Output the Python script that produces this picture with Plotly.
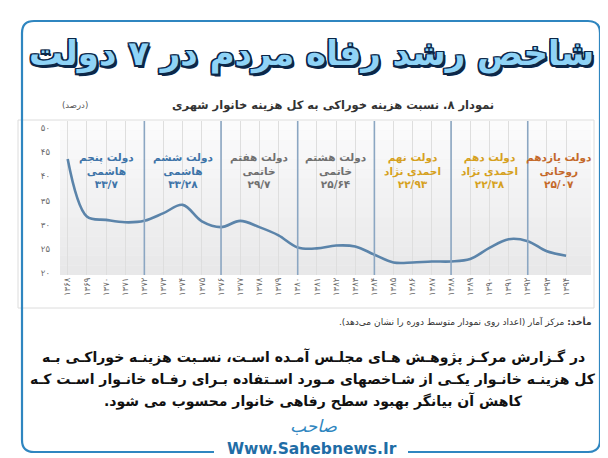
import plotly.graph_objects as go

# ---------------- data ----------------
years = list(range(1368, 1395))
food_share = [43.6, 31.7, 31.0, 30.5, 30.8, 32.4, 34.1, 30.7, 29.5, 30.8,
              29.5, 27.8, 25.3, 25.1, 25.7, 25.5, 23.8, 22.2, 22.2, 22.4,
              22.4, 22.9, 25.2, 27.0, 26.6, 24.5, 23.6]
boundary_years = [1372, 1376, 1380, 1384, 1388, 1392]
period_starts = [1368, 1372, 1376, 1380, 1384, 1388, 1392]
gov_names = ["دولت پنجم", "دولت ششم", "دولت هفتم", "دولت هشتم",
             "دولت نهم", "دولت دهم", "دولت یازدهم"]
gov_leaders = ["هاشمی", "هاشمی", "خاتمی", "خاتمی",
               "احمدی نژاد", "احمدی نژاد", "روحانی"]
gov_avgs = ["۳۳/۷", "۳۳/۲۸", "۲۹/۷", "۲۵/۶۴", "۲۲/۹۳", "۲۲/۳۸", "۲۵/۰۷"]
gov_colors = ["#3e74a8", "#3e74a8", "#707070", "#707070",
              "#d6a11e", "#d6a11e", "#c4692a"]
y_ticks = [20, 25, 30, 35, 40, 45, 50]

FA = str.maketrans("0123456789", "۰۱۲۳۴۵۶۷۸۹")
def fa(v):
    return str(v).translate(FA)

RLM = "\u200f"
W, H = 608, 458
L, R, T, B = 52, 25, 113, 191
PW, PH = W - L - R, H - T - B
X_RANGE = [1367.6, 1395.3]
Y_RANGE = [19.6, 51.45]

def px(x):
    return (x - L) / PW
def py(y):
    return (H - B - y) / PH

FONT = "DejaVu Sans"

fig = go.Figure()
fig.add_trace(go.Scatter(
    x=years, y=food_share, mode="lines",
    line=dict(color="#5b84aa", width=2.6, shape="spline", smoothing=1.0),
    hoverinfo="skip", showlegend=False))

shapes = []
# plot background gradient
nb = 16
for i in range(nb):
    c0 = 251 - int(round(i * (251 - 232) / (nb - 1)))
    shapes.append(dict(type="rect", xref="x domain", yref="y domain",
                       x0=0, x1=1, y0=1 - (i + 1) / nb, y1=1 - i / nb,
                       fillcolor=f"rgb({c0},{c0},{c0+1})", line=dict(width=0),
                       layer="below"))
# government boundary lines
for by in boundary_years:
    shapes.append(dict(type="line", xref="x", yref="y domain", x0=by, x1=by,
                       y0=0, y1=1, line=dict(color="#8ba6c2", width=1.6)))
# chart panel box
shapes.append(dict(type="rect", xref="paper", yref="paper",
                   x0=px(10), x1=px(586), y0=py(300), y1=py(112),
                   line=dict(color="#dcdcdc", width=1), fillcolor="rgba(0,0,0,0)",
                   layer="below"))
# outer rounded frame with gap at bottom
def P(x, y):
    return f"{px(x):.5f},{py(y):.5f}"
path = ("M " + P(206, 444) + " L " + P(26, 444) + " Q " + P(14, 444) + " " + P(14, 432) +
        " L " + P(14, 25) + " Q " + P(14, 13) + " " + P(26, 13) +
        " L " + P(580, 13) + " Q " + P(592, 13) + " " + P(592, 25) +
        " L " + P(592, 432) + " Q " + P(592, 444) + " " + P(580, 444) +
        " L " + P(400, 444))
shapes.append(dict(type="path", xref="paper", yref="paper", path=path,
                   line=dict(color="#2f86c0", width=2.2)))

annotations = []
# big title
outline = "#0c2748"
sh = ", ".join(f"{dx}px {dy}px 0 {outline}" for dx, dy in
               [(-1.5, -1.5), (1.5, -1.5), (-1.5, 1.5), (1.5, 1.5), (0, 1.5), (0, -1.5),
                (1.5, 0), (-1.5, 0), (2.5, 2.5)])
annotations.append(dict(xref="paper", yref="paper", x=px(303), y=py(46),
                        text="<b>شاخص رشد رفاه مردم در ۷ دولت</b>", showarrow=False,
                        xanchor="center", yanchor="middle",
                        font=dict(family=FONT, size=34, color="#8fd3f6", shadow=sh)))
# chart title
annotations.append(dict(xref="paper", yref="paper", x=px(488), y=py(97),
                        text="<b>نمودار ۸. نسبت هزینه خوراکی به کل هزینه خانوار شهری</b>",
                        showarrow=False, xanchor="right", yanchor="middle",
                        font=dict(family=FONT, size=11.5, color="#333333")))
annotations.append(dict(xref="paper", yref="paper", x=px(67), y=py(97),
                        text="(درصد)", showarrow=False, xanchor="center", yanchor="middle",
                        font=dict(family=FONT, size=8.5, color="#555555")))
# government labels
ends = period_starts[1:] + [X_RANGE[1]]
for s, e, n, ld, av, col in zip(period_starts, ends, gov_names, gov_leaders, gov_avgs, gov_colors):
    annotations.append(dict(xref="x", yref="paper", x=(s + e) / 2, y=py(162),
                            text=f"<b>{n}<br>{ld}<br>{av}</b>", showarrow=False,
                            xanchor="center", yanchor="middle", align="center",
                            font=dict(family=FONT, size=10.5, color=col)))
# source
annotations.append(dict(xref="paper", yref="paper", x=px(585), y=py(313),
                        text="<b>مأخذ:</b> مرکز آمار (اعداد روی نمودار متوسط دوره را نشان می‌دهد)." + RLM,
                        showarrow=False, xanchor="right", yanchor="middle",
                        font=dict(family=FONT, size=9, color="#333333")))
# paragraph
para = ["در گـزارش مرکـز پژوهـش هـای مجلـس آمـده اسـت، نسـبت هزینـه خوراکـی بـه",
        "کل هزینـه خانـوار یکـی از شـاخصهای مـورد اسـتفاده بـرای رفـاه خانـوار اسـت کـه",
        "کاهش آن بیانگر بهبود سطح رفاهی خانوار محسوب می شود."]
for i, line in enumerate(para):
    annotations.append(dict(xref="paper", yref="paper", x=px(305), y=py(349 + 22 * i),
                            text=f"<b>{line}{RLM}</b>", showarrow=False,
                            xanchor="center", yanchor="middle",
                            font=dict(family=FONT, size=14, color="#111111")))
# logo and website
annotations.append(dict(xref="paper", yref="paper", x=px(305), y=py(418),
                        text="<i>صاحب</i>", showarrow=False, xanchor="center", yanchor="middle",
                        font=dict(family=FONT, size=17, color="#2f86c0")))
annotations.append(dict(xref="paper", yref="paper", x=px(304), y=py(441),
                        text="<b>Www.Sahebnews.Ir</b>", showarrow=False,
                        xanchor="center", yanchor="middle",
                        font=dict(family=FONT, size=15.5, color="#1f6da6")))

fig.update_layout(
    width=W, height=H, margin=dict(l=L, r=R, t=T, b=B),
    paper_bgcolor="white", plot_bgcolor="#f3f3f3",
    shapes=shapes, annotations=annotations, showlegend=False,
    xaxis=dict(range=X_RANGE, tickvals=years, ticktext=[fa(y) for y in years],
               tickangle=-90, tickfont=dict(family=FONT, size=8.5, color="#6a6a6a"),
               showgrid=True, gridcolor="#dedede", gridwidth=1, zeroline=False,
               showline=False, ticks="", fixedrange=True),
    yaxis=dict(range=Y_RANGE, tickvals=y_ticks, ticktext=[fa(v) for v in y_ticks],
               tickfont=dict(family=FONT, size=8.5, color="#6a6a6a"),
               showgrid=False, zeroline=False, showline=False, ticks="",
               ticklabelstandoff=9, fixedrange=True),
)
fig.write_html("out.html")
